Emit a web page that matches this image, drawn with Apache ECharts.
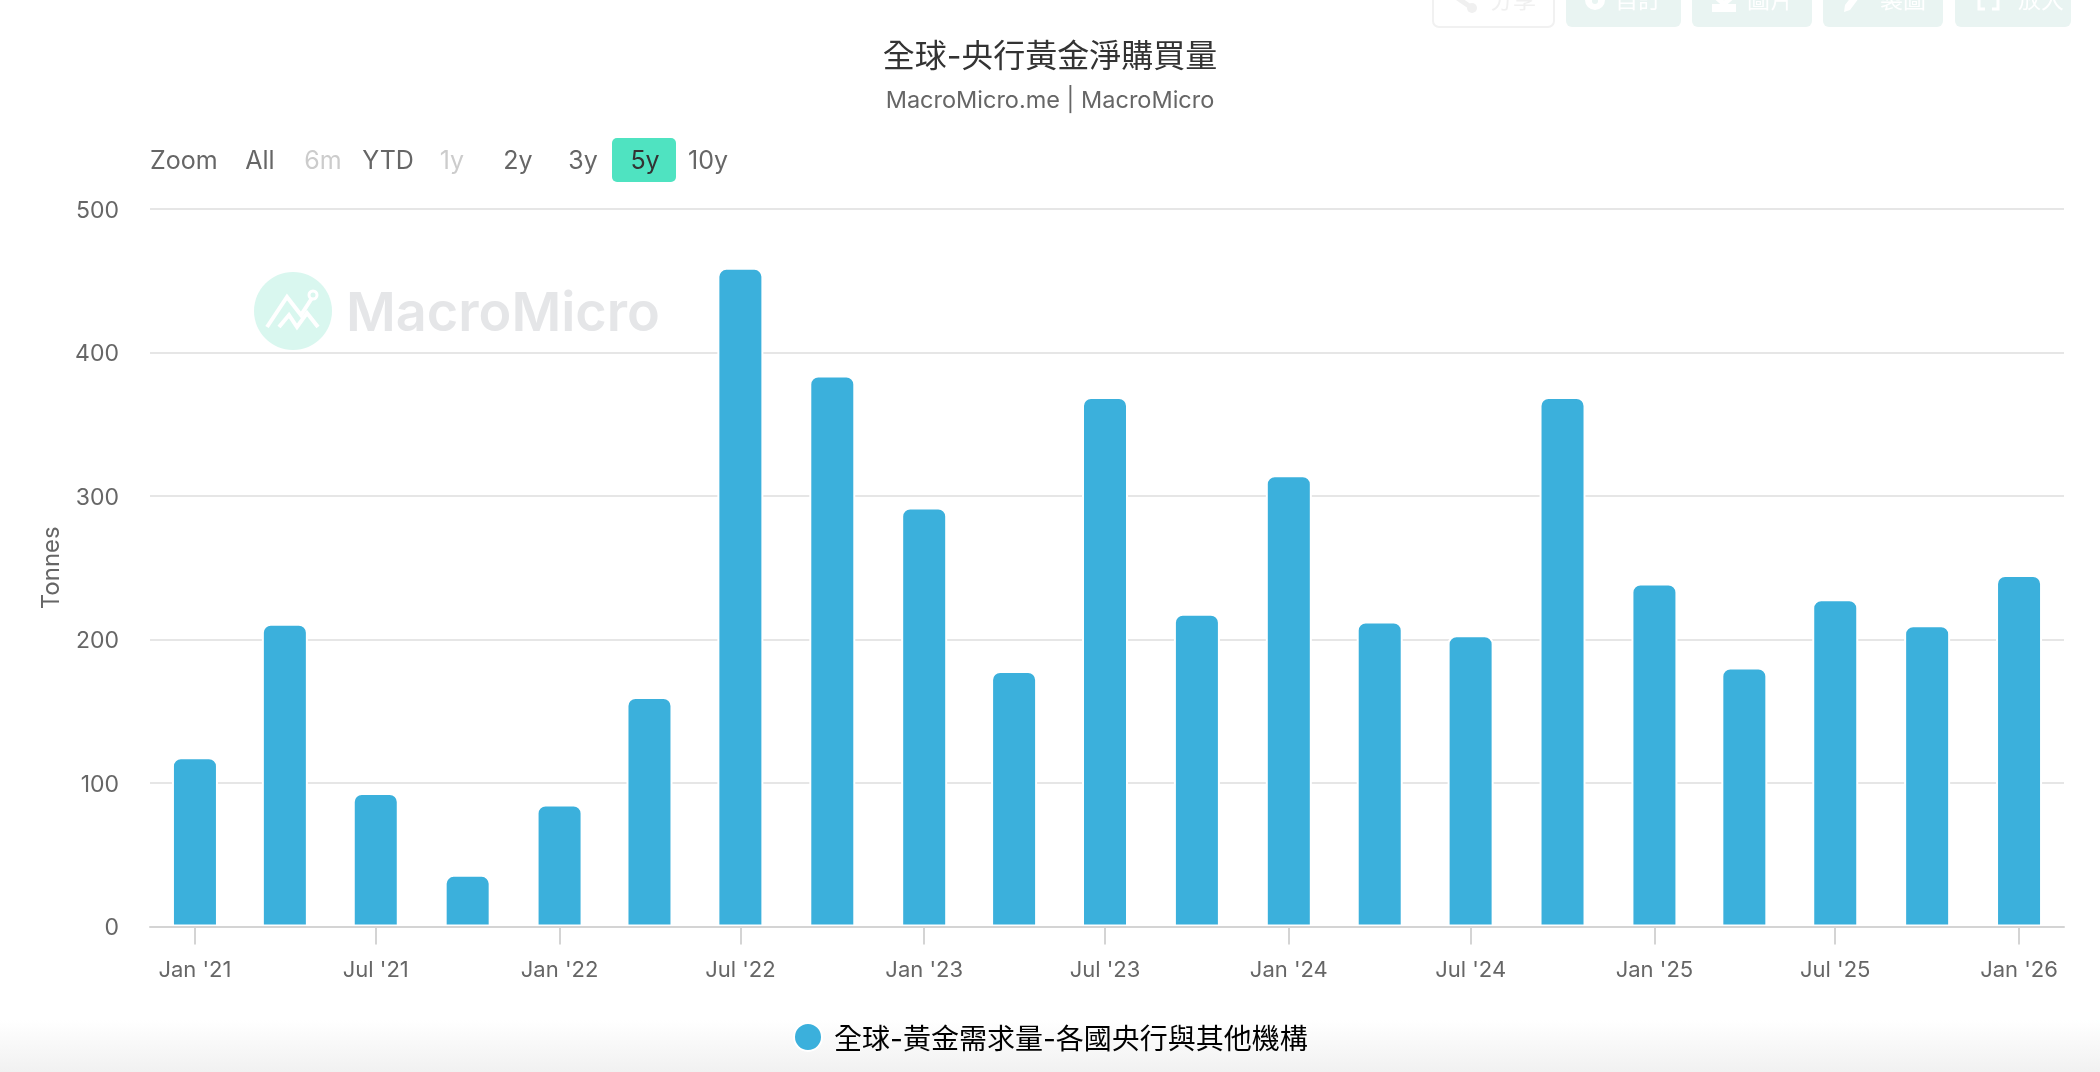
<!DOCTYPE html>
<html>
<head>
<meta charset="utf-8">
<style>html,body{margin:0;padding:0;background:#fff}#chart{width:2100px;height:1072px}</style>
<script src="https://cdn.jsdelivr.net/npm/echarts@6/dist/echarts.min.js"></script>
</head>
<body>
<div id="chart"></div>
<script>
// Quarterly central bank gold purchases, tonnes
const quarters = ['2021-01-01','2021-04-01','2021-07-01','2021-10-01','2022-01-01','2022-04-01','2022-07-01',
  '2022-10-01','2023-01-01','2023-04-01','2023-07-01','2023-10-01','2024-01-01','2024-04-01','2024-07-01',
  '2024-10-01','2025-01-01','2025-04-01','2025-07-01','2025-10-01','2026-01-01'];
const tonnes = [118,211,93,36,85,160,459,384,292,178,369,218,314.5,212.5,203,369,239,180.5,228,210,245];
const tickDates = ['2021-01-01','2021-07-01','2022-01-01','2022-07-01','2023-01-01','2023-07-01','2024-01-01',
  '2024-07-01','2025-01-01','2025-07-01','2026-01-01'];
const tickLabels = ["Jan '21","Jul '21","Jan '22","Jul '22","Jan '23","Jul '23","Jan '24","Jul '24","Jan '25","Jul '25","Jan '26"];
const yTicks = [0,100,200,300,400,500];
const titleText = '全球-央行黃金淨購買量';
const subtitleText = 'MacroMicro.me | MacroMicro';
const seriesName = '全球-黃金需求量-各國央行與其他機構';
const yAxisName = 'Tonnes';
const zoomLabel = 'Zoom';
const rangeLabels = ['All','6m','YTD','1y','2y','3y','5y','10y'];
const disabledRanges = ['6m','1y'];
const activeRange = '5y';
const toolLabels = ['分享','自訂','圖片','製圖','放大'];

const FONT = 'Inter, "Noto Sans CJK TC", sans-serif';
const DAY = 86400000;
const toTime = s => { const p = s.split('-').map(Number); return Date.UTC(p[0], p[1]-1, p[2]); };
const tickTimes = tickDates.map(toTime);

// Range selector row above the plot
const rangeCentres = [260,323,388,452,518,583,645,708];
const rangeGraphics = [
  {type:'text', left:150, top:149, style:{text:zoomLabel, font:'25px '+FONT, fill:'#666666'}},
  {type:'rect', z:0, shape:{x:612,y:138,width:64,height:44,r:5}, style:{fill:'#4fe3c1'}}
];
rangeLabels.forEach((t,i)=>{
  rangeGraphics.push({type:'text', x:rangeCentres[i], y:161, z:1,
    style:{text:t, font:'25px '+FONT, align:'center', verticalAlign:'middle',
      fill: t===activeRange ? '#333333' : disabledRanges.includes(t) ? '#cccccc' : '#666666'}});
});

// Toolbar buttons, mostly cut off by the top edge
const toolBoxes = [[1433,121],[1566,115],[1692,120],[1823,120],[1955,116]];
const toolTextX = [1513,1638,1770,1903,2041];
const toolGraphics = [];
toolBoxes.forEach((b,i)=>{
  toolGraphics.push({type:'rect', shape:{x:b[0],y:-30,width:b[1],height:57,r:6},
    style: i===0 ? {fill:'#ffffff',stroke:'#f1f1f1',lineWidth:2} : {fill:'#e9f4f2'}});
  toolGraphics.push({type:'text', x:toolTextX[i], y:1,
    style:{text:toolLabels[i], font:'23px '+FONT, align:'center', verticalAlign:'middle',
      fill: i===0 ? '#f0f0f0' : '#ffffff'}});
});
const iconLine = {stroke:'#ffffff',lineWidth:3,fill:null};
toolGraphics.push(
  {type:'polyline', shape:{points:[[1456,-3],[1472,8]]}, style:{stroke:'#f0f0f0',lineWidth:5,fill:null}},
  {type:'circle', shape:{cx:1472,cy:8,r:5}, style:{fill:'#f0f0f0'}},
  {type:'circle', shape:{cx:1595,cy:0,r:10}, style:{fill:'#ffffff'}},
  {type:'circle', shape:{cx:1595,cy:1,r:3}, style:{fill:'#e9f4f2'}},
  {type:'rect', shape:{x:1712,y:4,width:24,height:8}, style:{fill:'#ffffff'}},
  {type:'polyline', shape:{points:[[1716,-3],[1724,4],[1732,-3]]}, style:{stroke:'#ffffff',lineWidth:5,fill:null}},
  {type:'polygon', shape:{points:[[1862,-6],[1850,10],[1844,12],[1845,5],[1855,-8]]}, style:{fill:'#ffffff'}},
  {type:'polyline', shape:{points:[[1979,0],[1979,9],[1985,9]]}, style:iconLine},
  {type:'polyline', shape:{points:[[1998,0],[1998,9],[1992,9]]}, style:iconLine}
);

// Watermark sitting behind the bars
const watermark = [
  {type:'ellipse', shape:{cx:293,cy:311,rx:39,ry:39}, style:{fill:'#d9f7ef'}},
  {type:'polyline', shape:{points:[[267,327],[287,297],[301,315],[312,298]]}, style:{stroke:'#fff',lineWidth:4,fill:null}},
  {type:'polyline', shape:{points:[[279,327],[289,315],[297,327],[307,313],[318,327]]}, style:{stroke:'#fff',lineWidth:4,fill:null}},
  {type:'circle', shape:{cx:313,cy:295,r:4}, style:{fill:'#d9f7ef',stroke:'#fff',lineWidth:3}},
  {type:'text', left:346, top:288, style:{text:'MacroMicro', font:'600 54px '+FONT, fill:'#e5e6e8'}}
];

// Soft shade along the lower edge
const shade = {type:'rect', z:-1, shape:{x:0,y:1020,width:2100,height:52},
  style:{fill:new echarts.graphic.LinearGradient(0,0,0,1,[{offset:0,color:'#ffffff'},{offset:1,color:'#f1f1f1'}])}};

const chart = echarts.init(document.getElementById('chart'), null, {renderer:'canvas'});
chart.setOption({
  animation:false,
  backgroundColor:'#ffffff',
  textStyle:{fontFamily:FONT},
  title:{
    text:titleText, subtext:subtitleText, left:'center', top:36, itemGap:16,
    textStyle:{fontFamily:FONT,fontSize:32,fontWeight:400,color:'#333333'},
    subtextStyle:{fontFamily:FONT,fontSize:23.5,color:'#666666'}
  },
  legend:{
    left:793, top:1022, icon:'circle', itemWidth:28, itemHeight:28, itemGap:0, padding:0,
    formatter:'{t|{name}}',
    textStyle:{fontFamily:FONT,fontSize:28,color:'#000000',
      rich:{t:{fontFamily:FONT,fontSize:28,color:'#000000',padding:[8,0,0,7]}}}
  },
  grid:{left:150,right:36,top:209,bottom:145.5},
  xAxis:{
    // Numeric date scale so that ticks can sit on half-year boundaries only
    type:'value',
    min:tickTimes[0]-45*DAY,
    max:tickTimes[tickTimes.length-1]+45*DAY,
    z:5,
    axisLine:{lineStyle:{color:'#d4d4d4',width:2}},
    axisTick:{length:18,lineStyle:{color:'#d4d4d4',width:2},customValues:tickTimes},
    axisLabel:{
      customValues:tickTimes, margin:33, fontSize:22, color:'#666666', fontFamily:FONT, hideOverlap:false,
      showMinLabel:true, showMaxLabel:true,
      formatter:v=>{ const i=tickTimes.indexOf(+v); return i>=0?tickLabels[i]:''; }
    },
    splitLine:{show:false}
  },
  yAxis:{
    type:'value', min:yTicks[0], max:yTicks[yTicks.length-1], interval:100,
    name:yAxisName, nameLocation:'middle', nameGap:83,
    nameTextStyle:{fontSize:24,color:'#666666',fontFamily:FONT},
    axisLine:{show:false}, axisTick:{show:false},
    axisLabel:{margin:31,fontSize:23,color:'#666666',fontFamily:FONT,verticalAlign:'top',lineHeight:4},
    splitLine:{lineStyle:{color:'#e6e6e6',width:2}}
  },
  series:[{
    name:seriesName, type:'bar', barWidth:46,
    itemStyle:{color:'#3bb0dc',borderColor:'#ffffff',borderWidth:2,borderRadius:[8,8,0,0]},
    data:quarters.map((q,i)=>[toTime(q),tonnes[i]])
  }],
  graphic:[shade].concat(watermark,rangeGraphics,toolGraphics)
});
</script>
</body>
</html>
